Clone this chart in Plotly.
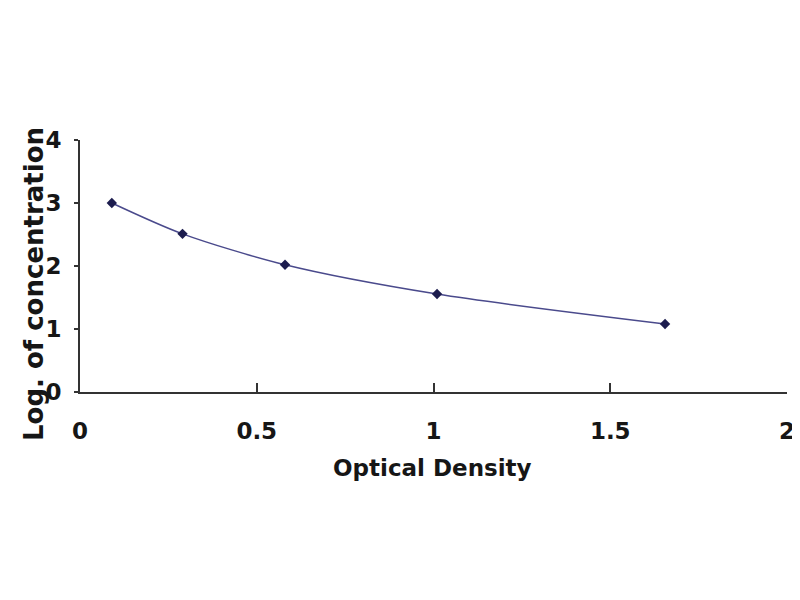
import plotly.graph_objects as go

# standard curve points
optical_density = [0.09, 0.29, 0.58, 1.01, 1.655]
log_concentration = [3.0, 2.51, 2.02, 1.555, 1.08]

x_ticks = [0, 0.5, 1, 1.5, 2]
x_tick_labels = ["0", "0.5", "1", "1.5", "2"]
y_ticks = [0, 1, 2, 3, 4]

font_bold = "DejaVu Sans, Arial, sans-serif"
text_color = "#161616"

fig = go.Figure()
fig.add_trace(go.Scatter(
    x=optical_density,
    y=log_concentration,
    mode="lines+markers",
    line=dict(color="#4a4a8c", width=1.5, shape="spline", smoothing=0.8),
    marker=dict(symbol="diamond", size=8, color="#1c1c4e"),
    showlegend=False,
))

# the page body adds an 8px offset, so the margins are shifted by that much
fig.update_layout(
    width=800, height=600,
    margin=dict(l=72, r=21, t=132, b=216),
    paper_bgcolor="white", plot_bgcolor="white",
    font=dict(family=font_bold, size=20, color=text_color),
    xaxis=dict(
        range=[0, 2], tickvals=x_ticks, ticktext=x_tick_labels,
        showgrid=False, zeroline=False, automargin=False,
        showline=True, linecolor="#333333", linewidth=2,
        ticks="inside", ticklen=9, tickwidth=2, tickcolor="#333333",
        ticklabelstandoff=17,
        tickfont=dict(family=font_bold, size=23, weight="bold"),
    ),
    yaxis=dict(
        range=[0, 4], tickvals=y_ticks,
        showgrid=False, zeroline=False, automargin=False,
        showline=True, linecolor="#333333", linewidth=2,
        ticks="outside", ticklen=4, tickwidth=2, tickcolor="#333333",
        ticklabelstandoff=8,
        tickfont=dict(family=font_bold, size=23, weight="bold"),
    ),
    annotations=[
        dict(
            text="Log. of concentration",
            xref="paper", yref="paper",
            x=-46 / 707, y=(392 - 284) / 252,
            xanchor="center", yanchor="middle",
            textangle=-90, showarrow=False,
            font=dict(family=font_bold, size=26, weight="bold"),
        ),
        dict(
            text="Optical Density",
            xref="paper", yref="paper",
            x=(432 - 80) / 707, y=-(468 - 392) / 252,
            xanchor="center", yanchor="middle",
            showarrow=False,
            font=dict(family=font_bold, size=23, weight="bold"),
        ),
    ],
)

fig.write_html("out.html")
